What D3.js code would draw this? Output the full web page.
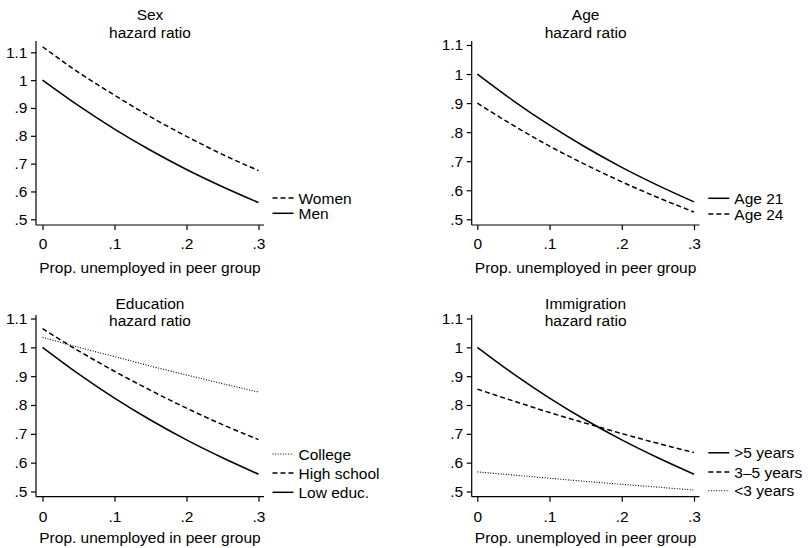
<!DOCTYPE html>
<html>
<head>
<meta charset="utf-8">
<script src="https://cdn.jsdelivr.net/npm/d3@7"></script>
<style>
  body { margin: 0; background: #fff; }
  svg { display: block; }
  text { font-family: "Liberation Sans", Arial, Helvetica, sans-serif; font-size: 15.5px; fill: #000; }
</style>
</head>
<body>
<div id="chart"></div>
<script>
const width = 808;
const height = 548;

// data
const xVals = [0, 0.05, 0.1, 0.15, 0.2, 0.25, 0.3];
const menHR = [1.0, 0.908, 0.824, 0.748, 0.679, 0.617, 0.56];
const womenHR = [1.12, 1.028, 0.946, 0.868, 0.798, 0.733, 0.675];
const age21HR = [1.0, 0.908, 0.824, 0.748, 0.679, 0.617, 0.56];
const age24HR = [0.90, 0.823, 0.752, 0.688, 0.629, 0.575, 0.525];
const lowEducHR = [1.0, 0.908, 0.824, 0.748, 0.679, 0.617, 0.56];
const highSchoolHR = [1.065, 0.988, 0.917, 0.851, 0.789, 0.732, 0.68];
const collegeHR = [1.035, 1.0, 0.968, 0.935, 0.904, 0.874, 0.845];
const over5HR = [1.0, 0.908, 0.824, 0.748, 0.679, 0.617, 0.56];
const from3to5HR = [0.855, 0.814, 0.774, 0.737, 0.701, 0.667, 0.635];
const under3HR = [0.568, 0.557, 0.546, 0.535, 0.525, 0.515, 0.505];

const xTicks = [0, 0.1, 0.2, 0.3];
const yTicks = [0.5, 0.6, 0.7, 0.8, 0.9, 1, 1.1];
const panelTitles = ["Sex", "Age", "Education", "Immigration"];
const subTitle = "hazard ratio";
const xTitle = "Prop. unemployed in peer group";

const dashStyle = { solid: null, dash: "5,3", dot: "1,1.6" };

// legend order as in the picture, series per panel
const panels = [
  { title: panelTitles[0],
    series: [{ name: "Women", values: womenHR, style: "dash" },
             { name: "Men", values: menHR, style: "solid" }],
    x0: 42.5, x1: 258.5, axisX: 36, axisXEnd: 264,
    y11: 52.3, y05: 219.3, axisY: 225, axisTop: 41,
    titleY: 19.5, subY: 38.3, tickY: 249, xTitleY: 272.5,
    legendY: [198, 213.3], legendX: 272.5 },
  { title: panelTitles[1],
    series: [{ name: "Age 21", values: age21HR, style: "solid" },
             { name: "Age 24", values: age24HR, style: "dash" }],
    x0: 477.3, x1: 694, axisX: 471.7, axisXEnd: 699.5,
    y11: 45, y05: 219.3, axisY: 225, axisTop: 41,
    titleY: 19.5, subY: 38.3, tickY: 249, xTitleY: 272.5,
    legendY: [198.3, 214], legendX: 708.3 },
  { title: panelTitles[2],
    series: [{ name: "College", values: collegeHR, style: "dot" },
             { name: "High school", values: highSchoolHR, style: "dash" },
             { name: "Low educ.", values: lowEducHR, style: "solid" }],
    x0: 42.5, x1: 258.5, axisX: 36, axisXEnd: 264,
    y11: 318.5, y05: 491.5, axisY: 496.7, axisTop: 315,
    titleY: 309, subY: 326.3, tickY: 522.5, xTitleY: 542.8,
    legendY: [454, 473, 492.3], legendX: 272.5 },
  { title: panelTitles[3],
    series: [{ name: ">5 years", values: over5HR, style: "solid" },
             { name: "3\u20135 years", values: from3to5HR, style: "dash" },
             { name: "<3 years", values: under3HR, style: "dot" }],
    x0: 477.3, x1: 694, axisX: 471.7, axisXEnd: 699.5,
    y11: 318.5, y05: 491.5, axisY: 496.7, axisTop: 315,
    titleY: 309, subY: 326.3, tickY: 522.5, xTitleY: 542.8,
    legendY: [452.8, 472, 490.8], legendX: 708.3 }
];

let svg = d3.select("#chart").append("svg")
    .attr("width", width)
    .attr("height", height);

function fmtTick(d){
    // Stata style: no leading zero
    let s = d3.format("~g")(d);
    return s.replace(/^0\./, ".");
}

function drawPanel(p){
    let g = svg.append("g");
    let x = d3.scaleLinear().domain([0, 0.3]).range([p.x0, p.x1]);
    let y = d3.scaleLinear().domain([0.5, 1.1]).range([p.y05, p.y11]);
    let cx = (p.axisX + p.axisXEnd) / 2;

    // titles
    g.append("text").attr("x", cx).attr("y", p.titleY)
        .attr("text-anchor", "middle").text(p.title);
    g.append("text").attr("x", cx).attr("y", p.subY)
        .attr("text-anchor", "middle").text(subTitle);

    // y axis
    let yAxis = g.append("g")
        .attr("transform", "translate(" + p.axisX + ",0)")
        .call(d3.axisLeft(y).tickValues(yTicks).tickSize(5).tickPadding(3.5).tickFormat(fmtTick));
    yAxis.select(".domain").remove();
    yAxis.selectAll("text").style("font-size", "15.5px").attr("font-family", null);
    g.append("line")
        .attr("x1", p.axisX).attr("x2", p.axisX)
        .attr("y1", p.axisTop).attr("y2", p.axisY)
        .attr("stroke", "#000").attr("stroke-width", 1.2);

    // x axis
    let xAxis = g.append("g")
        .attr("transform", "translate(0," + p.axisY + ")")
        .call(d3.axisBottom(x).tickValues(xTicks).tickSize(5).tickPadding(0).tickFormat(fmtTick));
    xAxis.select(".domain").remove();
    xAxis.selectAll("text").attr("dy", null).attr("y", p.tickY - p.axisY)
        .style("font-size", "15.5px").attr("font-family", null);
    g.append("line")
        .attr("x1", p.axisX).attr("x2", p.axisXEnd)
        .attr("y1", p.axisY).attr("y2", p.axisY)
        .attr("stroke", "#000").attr("stroke-width", 1.2);
    g.selectAll(".tick line").attr("stroke", "#000").attr("stroke-width", 1.2);

    g.append("text").attr("x", cx).attr("y", p.xTitleY)
        .attr("text-anchor", "middle").text(xTitle);

    // curves
    let line = d3.line()
        .x(function(d, i) { return x(xVals[i]); })
        .y(function(d) { return y(d); })
        .curve(d3.curveMonotoneX);

    g.selectAll("path.hr").data(p.series)
        .enter().append("path")
        .attr("class", "hr")
        .attr("d", function(d) { return line(d.values); })
        .attr("fill", "none")
        .attr("stroke", "#000")
        .attr("stroke-width", function(d) { return d.style === "dot" ? 1.1 : 1.5; })
        .attr("stroke-dasharray", function(d) { return dashStyle[d.style]; });

    // legend
    let leg = g.selectAll("g.leg").data(p.series)
        .enter().append("g")
        .attr("class", "leg")
        .attr("transform", function(d, i) { return "translate(" + p.legendX + "," + p.legendY[i] + ")"; });
    leg.append("line")
        .attr("x1", 0).attr("x2", 21)
        .attr("stroke", "#000")
        .attr("stroke-width", function(d) { return d.style === "dot" ? 1.1 : 1.5; })
        .attr("stroke-dasharray", function(d) { return dashStyle[d.style]; });
    leg.append("text")
        .attr("x", 26).attr("y", 5.5)
        .text(function(d) { return d.name; });
}

for (let p of panels){
    drawPanel(p);
}
</script>
</body>
</html>
